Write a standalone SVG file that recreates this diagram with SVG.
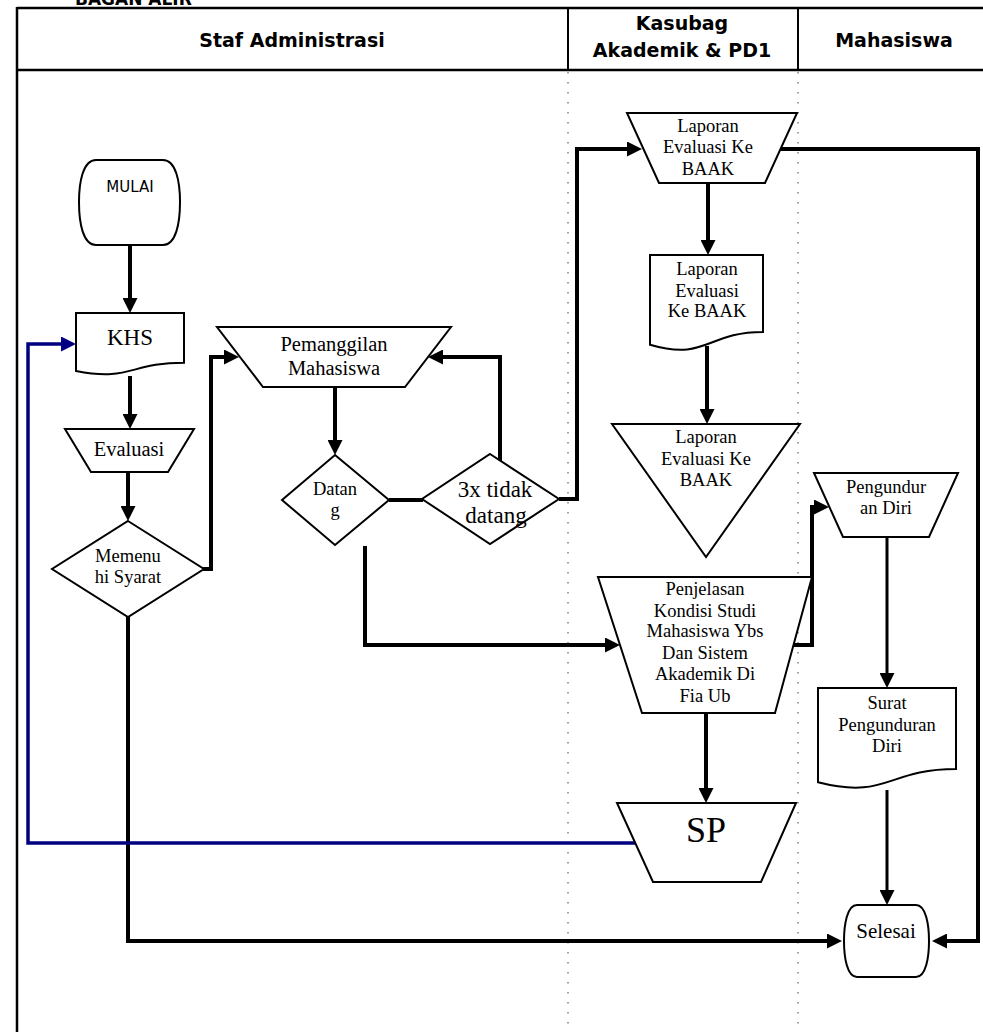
<svg xmlns="http://www.w3.org/2000/svg" width="983" height="1032" viewBox="0 0 983 1032">
  <style>
    .hdr { font-family: "DejaVu Sans", Verdana, sans-serif; font-weight: bold; font-size: 19px; fill: #000; text-anchor: middle; }
    .lbl { font-family: "Liberation Serif", "Times New Roman", serif; font-size: 18.5px; fill: #000; text-anchor: middle; }
    .shape { fill: #fff; stroke: #000; stroke-width: 2; stroke-linejoin: miter; }
    .frame { fill: none; stroke: #000; stroke-width: 2.5; }
    .lane { fill: none; stroke: #8a8a8a; stroke-width: 1.6; stroke-dasharray: 1.6 8.4; }
    .flow { fill: none; stroke: #000; stroke-width: 4; stroke-linejoin: miter; stroke-linecap: butt; }
    .flow-thin { fill: none; stroke: #000; stroke-width: 3; }
    .back { fill: none; stroke: #000080; stroke-width: 3.5; stroke-linejoin: miter; }
  </style>
  <defs>
    <marker id="arr" viewBox="0 0 15 15" markerWidth="15" markerHeight="15" refX="3" refY="7.5" orient="auto" markerUnits="userSpaceOnUse">
      <path d="M0,0 L15,7.5 L0,15 z" fill="#000"/>
    </marker>
    <marker id="arrBlue" viewBox="0 0 15 15" markerWidth="15" markerHeight="15" refX="3" refY="7.5" orient="auto" markerUnits="userSpaceOnUse">
      <path d="M0,0 L15,7.5 L0,15 z" fill="#000080"/>
    </marker>
  </defs>

  <rect width="983" height="1032" fill="#fff"/>

  <!-- title, clipped at the page top -->
  <text x="75" y="5" class="hdr" style="text-anchor:start;font-size:17px">BAGAN ALIR</text>

  <!-- swimlane frame -->
  <g id="lanes">
    <line x1="17" y1="8" x2="983" y2="8" class="frame"/>
    <line x1="17" y1="70" x2="983" y2="70" class="frame"/>
    <line x1="17" y1="7" x2="17" y2="1032" class="frame"/>
    <line x1="568" y1="8" x2="568" y2="70" class="frame" style="stroke-width:2"/>
    <line x1="798" y1="8" x2="798" y2="70" class="frame" style="stroke-width:2"/>
    <line x1="568" y1="72" x2="568" y2="1032" class="lane"/>
    <line x1="798" y1="72" x2="798" y2="1032" class="lane"/>
    <text x="292" y="47" class="hdr">Staf Administrasi</text>
    <text x="682" y="30" class="hdr">Kasubag</text>
    <text x="682" y="57" class="hdr">Akademik &amp; PD1</text>
    <text x="894" y="47" class="hdr">Mahasiswa</text>
  </g>

  <!-- connectors -->
  <g id="connectors">
    <path class="flow" d="M130,245 V301" marker-end="url(#arr)"/>
    <path class="flow" d="M130,376 V417" marker-end="url(#arr)"/>
    <path class="flow" d="M128,472 V509" marker-end="url(#arr)"/>
    <path class="flow" d="M203,569 H211 V357 H227" marker-end="url(#arr)"/>
    <path class="flow" d="M335,387 V443" marker-end="url(#arr)"/>
    <path class="flow" d="M389,500 H423"/>
    <path class="flow" d="M500,461 V357 H440" marker-end="url(#arr)"/>
    <path class="flow" d="M559,499 H577 V149 H630" marker-end="url(#arr)"/>
    <path class="flow" d="M708,183 V243" marker-end="url(#arr)"/>
    <path class="flow" d="M781,149 H978 V941 H944" marker-end="url(#arr)"/>
    <path class="flow" d="M707,346 V412" marker-end="url(#arr)"/>
    <path class="flow" d="M365,546 V645 H608" marker-end="url(#arr)"/>
    <path class="flow" d="M794,645 H812 V507 H817" marker-end="url(#arr)"/>
    <path class="flow-thin" d="M887,537 V676" marker-end="url(#arr)"/>
    <path class="flow-thin" d="M887,790 V893" marker-end="url(#arr)"/>
    <path class="flow" d="M706,713 V791" marker-end="url(#arr)"/>
    <path class="flow" d="M128,617 V941 H830" marker-end="url(#arr)"/>
    <path class="back" d="M635,843 H28 V344 H64" marker-end="url(#arrBlue)"/>
  </g>

  <g id="mulai">
    <path class="shape" d="M96,160 H163 C176,160 180,182 180,202 C180,223 176,245 163,245 H96 C83,245 79,223 79,202 C79,182 83,160 96,160 Z"/>
    <text x="130" y="192" style="font-family:'DejaVu Sans',Verdana,sans-serif;font-size:15px;text-anchor:middle">MULAI</text>
  </g>

  <g id="khs">
    <path class="shape" d="M76,313 H184 V362.7 C130,362.7 130,381.7 76,370.9 Z"/>
    <text x="130" y="345" class="lbl" style="font-size:23px">KHS</text>
  </g>

  <g id="evaluasi">
    <path class="shape" d="M65,429 H194 L168,472 H91 Z"/>
    <text x="129" y="456" class="lbl" style="font-size:20.5px">Evaluasi</text>
  </g>

  <g id="memenuhi-syarat">
    <path class="shape" d="M128,521 L204,569 L128,617 L52,569 Z"/>
    <text x="128" y="562" class="lbl">Memenu</text>
    <text x="128" y="583" class="lbl">hi Syarat</text>
  </g>

  <g id="pemanggilan">
    <path class="shape" d="M217,327 H451 L405,387 H263 Z"/>
    <text x="334" y="351" class="lbl" style="font-size:20.5px">Pemanggilan</text>
    <text x="334" y="375" class="lbl" style="font-size:20.5px">Mahasiswa</text>
  </g>

  <g id="datang">
    <path class="shape" d="M335,455 L389,500 L335,545 L282,500 Z"/>
    <text x="335" y="495" class="lbl">Datan</text>
    <text x="335" y="516" class="lbl">g</text>
  </g>

  <g id="tidak-datang">
    <path class="shape" d="M490,454 L559,499 L490,544 L422,499 Z"/>
    <text x="495" y="497" class="lbl" style="font-size:23px">3x tidak</text>
    <text x="496" y="523" class="lbl" style="font-size:23px">datang</text>
  </g>

  <g id="laporan-baak-1">
    <path class="shape" d="M627,113 H797 L765,183 H659 Z"/>
    <text x="708" y="132" class="lbl">Laporan</text>
    <text x="708" y="153" class="lbl">Evaluasi Ke</text>
    <text x="708" y="175" class="lbl">BAAK</text>
  </g>

  <g id="laporan-baak-2">
    <path class="shape" d="M650,255 H763 V332 C706.5,332 706.5,361.3 650,344.7 Z"/>
    <text x="707" y="275" class="lbl">Laporan</text>
    <text x="707" y="297" class="lbl">Evaluasi</text>
    <text x="707" y="317" class="lbl">Ke BAAK</text>
  </g>

  <g id="laporan-baak-3">
    <path class="shape" d="M612,424 H800 L706,557 Z"/>
    <text x="706" y="443" class="lbl">Laporan</text>
    <text x="706" y="465" class="lbl">Evaluasi Ke</text>
    <text x="706" y="486" class="lbl">BAAK</text>
  </g>

  <g id="penjelasan">
    <path class="shape" d="M598,577 H812 L775,713 H642 Z"/>
    <text x="705" y="595" class="lbl">Penjelasan</text>
    <text x="705" y="617" class="lbl">Kondisi Studi</text>
    <text x="705" y="637" class="lbl">Mahasiswa Ybs</text>
    <text x="705" y="659" class="lbl">Dan Sistem</text>
    <text x="705" y="680" class="lbl">Akademik Di</text>
    <text x="705" y="702" class="lbl">Fia Ub</text>
  </g>

  <g id="sp">
    <path class="shape" d="M617,803 H796 L761,882 H653 Z"/>
    <text x="706" y="842" class="lbl" style="font-size:36px">SP</text>
  </g>

  <g id="pengunduran-diri">
    <path class="shape" d="M814,473 H958 L929,537 H843 Z"/>
    <text x="886" y="493" class="lbl">Pengundur</text>
    <text x="886" y="514" class="lbl">an Diri</text>
  </g>

  <g id="surat-pengunduran">
    <path class="shape" d="M818,688 H956 V769 C887,769 887,799.9 818,782.3 Z"/>
    <text x="887" y="709" class="lbl">Surat</text>
    <text x="887" y="731" class="lbl">Pengunduran</text>
    <text x="887" y="752" class="lbl">Diri</text>
  </g>

  <g id="selesai">
    <path class="shape" d="M857,905 H916 C926,905 929,925 929,941 C929,957 926,977 916,977 H857 C847,977 844,957 844,941 C844,925 847,905 857,905 Z"/>
    <text x="886" y="938" class="lbl" style="font-size:21px">Selesai</text>
  </g>
</svg>
